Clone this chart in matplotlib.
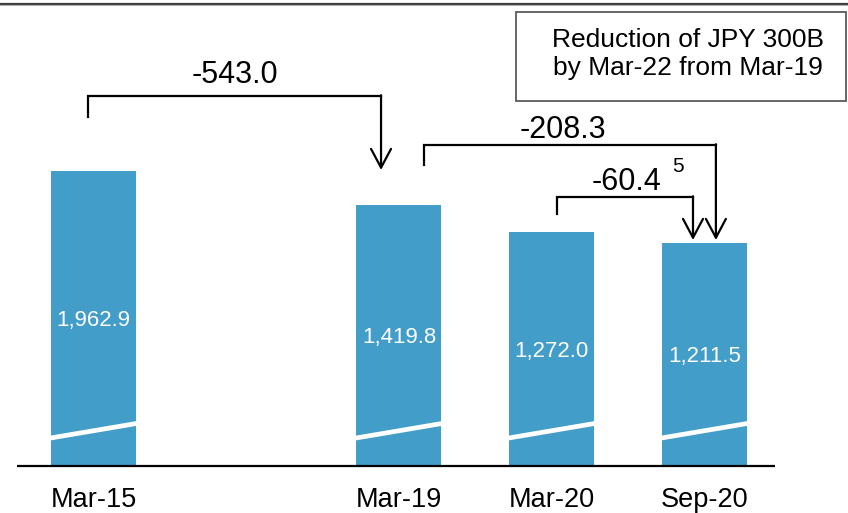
import numpy as np
import matplotlib
matplotlib.use("Agg")
import matplotlib.pyplot as plt
from matplotlib.transforms import blended_transform_factory
from matplotlib.patches import Rectangle

plt.rcParams["font.family"] = ["Liberation Sans", "DejaVu Sans"]

# ---- data -------------------------------------------------------------
periods = ["Mar-15", "Mar-19", "Mar-20", "Sep-20"]
slots = [0, 2, 3, 4]                     # Mar-15 stands apart from the rest
balances = [1962.9, 1419.8, 1272.0, 1211.5]
value_labels = ["1,962.9", "1,419.8", "1,272.0", "1,211.5"]
change_labels = ["-543.0", "-208.3", "-60.4"]
note_lines = ["Reduction of JPY 300B", "by Mar-22 from Mar-19"]

# ---- figure -----------------------------------------------------------
W, H = 848, 513
fig = plt.figure(figsize=(W / 100, H / 100), dpi=100)
ax = fig.add_axes([0, 47 / H, 1, (H - 47) / H])

BAR = "#429dc9"

# broken value axis: values above the knee are compressed
KNEE, SQUEEZE = 1500.0, 0.225


def fwd(v):
    v = np.asarray(v, dtype=float)
    return np.where(v <= KNEE, v, KNEE + (v - KNEE) * SQUEEZE)


def inv(t):
    t = np.asarray(t, dtype=float)
    return np.where(t <= KNEE, t, KNEE + (t - KNEE) / SQUEEZE)


ax.set_yscale("function", functions=(fwd, inv))

px_per_slot = 152.7
x0_px = 93.5
ax.set_xlim(-x0_px / px_per_slot, (W - x0_px) / px_per_slot)
ax.set_ylim(0, float(inv(466 / 0.1839)))

bars = ax.bar(slots, balances, width=0.557, color=BAR, zorder=2)

for s in ax.spines.values():
    s.set_visible(False)
ax.set_yticks([])
ax.set_xticks(slots)
ax.set_xticklabels(periods, fontsize=19.5)
ax.tick_params(axis="x", length=0, pad=15)

# baseline
ax.plot([-0.501, 4.463], [0, 0], color="black", lw=1.6, zorder=4,
        clip_on=False, solid_capstyle="butt")

fy = lambda py: 1 - py / H                # pixel-from-top -> figure fraction
tr = blended_transform_factory(ax.transData, fig.transFigure)

# white break marks across each bar
for x in slots:
    ax.plot([x - 0.3, x + 0.3], [fy(438.5), fy(423.0)], transform=tr,
            color="white", lw=3.4, zorder=3, solid_capstyle="butt")

# values inside the bars, a touch below mid-height
for x, v, lab in zip(slots, balances, value_labels):
    y_top = ax.transData.transform((x, v))[1]
    y_bot = ax.transData.transform((x, 0))[1]
    ymid = ax.transData.inverted().transform((0, (y_top + y_bot) / 2 - 2))[1]
    ax.text(x, ymid, lab, color="white", fontsize=16, ha="center",
            va="center", zorder=5)

# change brackets with arrows
brackets = [
    # x start, x end, y foot, y bar, arrow tip (pixels from top)
    (-0.036, 1.883, 117, 96, 170),
    (2.164, 4.076, 165, 145, 240),
    (3.035, 3.926, 214, 197, 240),
]
for (xa, xb, yfoot, ybar, ytip) in brackets:
    ax.plot([xa, xa, xb], [fy(yfoot), fy(ybar), fy(ybar)], transform=tr,
            color="black", lw=1.6, solid_joinstyle="miter", zorder=5)
    ax.annotate("", xy=(xb, fy(ytip)), xycoords=tr,
                xytext=(xb, fy(ybar) + 0.0015), textcoords=tr,
                arrowprops=dict(arrowstyle="->,head_length=1.35,head_width=0.72",
                                lw=1.6, color="black", shrinkA=0, shrinkB=0,
                                mutation_scale=10), zorder=5)

text_pos = [(0.927, 75), (3.075, 130), (3.49, 181.5)]
for (x, py), lab in zip(text_pos, change_labels):
    ax.text(x, fy(py), lab, transform=tr, fontsize=22, ha="center",
            va="center")
ax.text(3.83, fy(166), "5", transform=tr, fontsize=15, ha="center",
        va="center")

# note box in the upper right
fig.patches.append(Rectangle((516 / W, fy(101)), (846 - 516) / W,
                             (101 - 12) / H, transform=fig.transFigure,
                             facecolor="white", edgecolor="#5a5a5a", lw=1.3))
fig.text(688 / W, fy(40), note_lines[0], fontsize=19, ha="center",
         va="center")
fig.text(688 / W, fy(68), note_lines[1], fontsize=19, ha="center",
         va="center")

# rule along the top edge
fig.add_artist(plt.Line2D([0, 1], [fy(3.5), fy(3.5)], transform=fig.transFigure,
                          color="#3c3c3c", lw=1.6))
fig.add_artist(plt.Line2D([0, 1], [fy(5.2), fy(5.2)], transform=fig.transFigure,
                          color="#b0b0b0", lw=0.8))

fig.savefig("out.png", dpi=100)
